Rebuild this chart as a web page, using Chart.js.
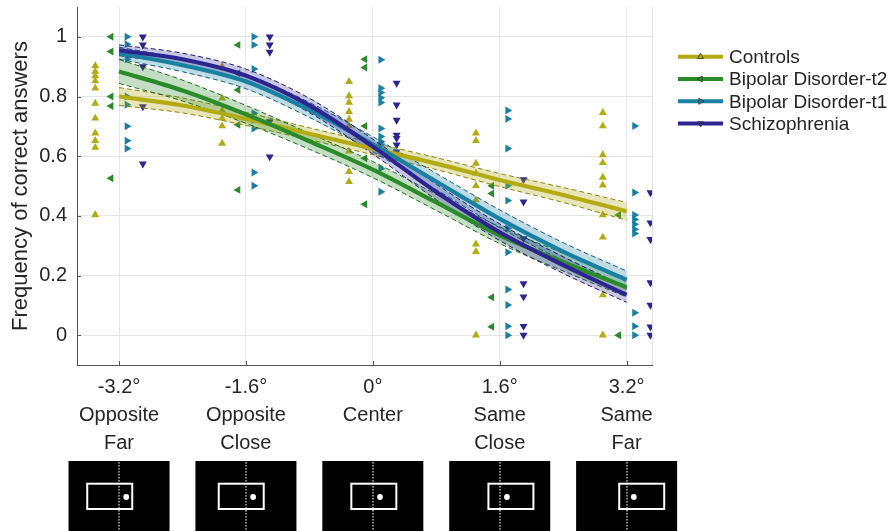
<!DOCTYPE html>
<html><head><meta charset="utf-8">
<script src="https://cdn.jsdelivr.net/npm/chart.js@4"></script>
<style>html,body{margin:0;padding:0;background:#fff;}canvas{display:block}</style>
</head><body>
<canvas id="c" width="892" height="531"></canvas>
<script>
// ---------- data ----------
const groupNames = ["Controls", "Bipolar Disorder-t2", "Bipolar Disorder-t1", "Schizophrenia"];
const conditions = [-3.2, -1.6, 0, 1.6, 3.2];
const tickLabels = [["-3.2°","Opposite","Far"],["-1.6°","Opposite","Close"],["0°","Center"],["1.6°","Same","Close"],["3.2°","Same","Far"]];
const yTicks = [0, 0.2, 0.4, 0.6, 0.8, 1];
const groupOffsets = [-0.3, -0.1, 0.1, 0.3];

// fitted curves, read at these eccentricities
const curveX = [-3.2, -2.4, -1.6, -0.8, 0, 0.8, 1.6, 2.4, 3.2];
const controlsFit  = [0.800, 0.770, 0.725, 0.675, 0.625, 0.575, 0.520, 0.470, 0.415];
const controlsUp   = [0.830, 0.795, 0.747, 0.695, 0.645, 0.595, 0.542, 0.495, 0.445];
const controlsLo   = [0.770, 0.745, 0.703, 0.655, 0.605, 0.555, 0.498, 0.445, 0.385];
const bdT2Fit      = [0.884, 0.820, 0.740, 0.650, 0.555, 0.445, 0.335, 0.245, 0.160];
const bdT2Up       = [0.924, 0.855, 0.770, 0.677, 0.582, 0.472, 0.363, 0.275, 0.192];
const bdT2Lo       = [0.844, 0.785, 0.710, 0.623, 0.528, 0.418, 0.307, 0.215, 0.128];
const bdT1Fit      = [0.945, 0.905, 0.850, 0.755, 0.640, 0.515, 0.390, 0.280, 0.185];
const bdT1Up       = [0.965, 0.927, 0.874, 0.780, 0.665, 0.542, 0.420, 0.310, 0.215];
const bdT1Lo       = [0.925, 0.883, 0.826, 0.730, 0.615, 0.488, 0.360, 0.250, 0.155];
const szFit        = [0.955, 0.925, 0.870, 0.770, 0.632, 0.480, 0.345, 0.235, 0.135];
const szUp         = [0.973, 0.945, 0.892, 0.794, 0.657, 0.506, 0.373, 0.263, 0.160];
const szLo         = [0.937, 0.905, 0.848, 0.746, 0.607, 0.454, 0.317, 0.207, 0.110];

// individual participants, one list per condition
const controlsPts = [
  [0.903,0.884,0.869,0.852,0.828,0.777,0.727,0.677,0.652,0.629,0.403],
  [0.900,0.794,0.753,0.727,0.701,0.643],
  [0.850,0.802,0.780,0.749,0.723,0.701,0.617,0.548,0.514],
  [0.677,0.652,0.576,0.543,0.501,0.453,0.305,0.280,0.000],
  [0.746,0.701,0.604,0.578,0.529,0.503,0.403,0.328,0.135,0.000]
];
const bdT2Pts = [
  [1.000,0.951,0.800,0.768,0.526],
  [0.973,0.878,0.822,0.705,0.487],
  [0.925,0.897,0.701,0.593,0.439],
  [0.501,0.475,0.127,0.028],
  [0.403,0.000]
];
const bdT1Pts = [
  [1.000,0.975,0.925,0.800,0.772,0.700,0.652,0.626],
  [1.000,0.973,0.892,0.744,0.721,0.693,0.545,0.501],
  [0.923,0.828,0.813,0.796,0.780,0.693,0.666,0.649,0.638,0.559,0.481],
  [0.753,0.725,0.626,0.501,0.451,0.358,0.278,0.153,0.101,0.030,0.000],
  [0.701,0.478,0.403,0.388,0.372,0.355,0.341,0.075,0.030,0.000]
];
const szPts = [
  [1.000,0.973,0.900,0.766,0.574],
  [1.000,0.973,0.949,0.716,0.598],
  [0.845,0.772,0.721,0.671,0.660,0.638,0.615,0.604],
  [0.522,0.447,0.324,0.173,0.129,0.030,0.000],
  [0.478,0.377,0.321,0.176,0.101,0.028,0.000]
];

// ---------- styles ----------
const colors   = ["#b3ab14", "#2b8a2a", "#1a80a2", "#2c2490"];
const bandFill = ["rgba(179,171,20,0.30)", "rgba(43,138,42,0.28)", "rgba(26,128,162,0.28)", "rgba(44,36,144,0.26)"];
const bandLine = ["#8c8510", "#1f6a1f", "#135f7a", "#201a6c"];
const rotations = [0, 270, 90, 180];
const FONT = "'Liberation Sans', Arial, Helvetica, sans-serif";

const fits = [controlsFit, bdT2Fit, bdT1Fit, szFit];
const ups = [controlsUp, bdT2Up, bdT1Up, szUp];
const los = [controlsLo, bdT2Lo, bdT1Lo, szLo];
const pts = [controlsPts, bdT2Pts, bdT1Pts, szPts];

const toXY = (arr) => curveX.map((x, i) => ({x: x, y: arr[i]}));

const datasets = [];
// scatter first (drawn at bottom)
for (let g = 0; g < 4; g++) {
  const d = [];
  pts[g].forEach((list, ci) => list.forEach(v => d.push({x: conditions[ci] + groupOffsets[g], y: v})));
  datasets.push({
    type: 'scatter', label: groupNames[g] + ' data', data: d,
    pointStyle: 'triangle', rotation: rotations[g], pointRadius: 4.6,
    backgroundColor: colors[g], borderColor: colors[g], borderWidth: 0,
    order: 30 - g
  });
}
// bands
for (let g = 0; g < 4; g++) {
  const idx = datasets.length;
  datasets.push({
    type: 'scatter', label: groupNames[g] + ' upper', data: toXY(ups[g]), showLine: true,
    cubicInterpolationMode: 'monotone', pointRadius: 0, borderWidth: 1, borderDash: [5, 3],
    borderColor: bandLine[g], backgroundColor: bandFill[g], fill: {target: idx + 1},
    order: 20 - 2 * g
  });
  datasets.push({
    type: 'scatter', label: groupNames[g] + ' lower', data: toXY(los[g]), showLine: true,
    cubicInterpolationMode: 'monotone', pointRadius: 0, borderWidth: 1, borderDash: [5, 3],
    borderColor: bandLine[g], fill: false, order: 19 - 2 * g
  });
}
// fitted lines
for (let g = 0; g < 4; g++) {
  datasets.push({
    type: 'scatter', label: groupNames[g], data: toXY(fits[g]), showLine: true,
    cubicInterpolationMode: 'monotone', pointRadius: 0, borderWidth: 4.2,
    borderColor: colors[g], fill: false, order: 4 - g
  });
}

function drawTri(ctx, x, y, r, rotDeg) {
  ctx.save(); ctx.translate(x, y); ctx.rotate(rotDeg * Math.PI / 180);
  ctx.beginPath();
  ctx.moveTo(0, -r); ctx.lineTo(r * 0.866, r * 0.5); ctx.lineTo(-r * 0.866, r * 0.5); ctx.closePath();
  ctx.restore();
}

const extras = {
  id: 'extras',
  afterDraw(chart) {
    const ctx = chart.ctx, xs = chart.scales.x, ys = chart.scales.y, a = chart.chartArea;
    ctx.save();
    // right border
    ctx.strokeStyle = '#e2e2e2'; ctx.lineWidth = 1;
    ctx.beginPath(); ctx.moveTo(Math.round(a.right) + 0.5, a.top); ctx.lineTo(Math.round(a.right) + 0.5, a.bottom); ctx.stroke();
    // inner tick marks
    ctx.strokeStyle = '#555'; ctx.lineWidth = 1;
    yTicks.forEach(v => { const py = Math.round(ys.getPixelForValue(v)) + 0.5; ctx.beginPath(); ctx.moveTo(a.left, py); ctx.lineTo(a.left + 4, py); ctx.stroke(); });
    conditions.forEach(v => { const px = Math.round(xs.getPixelForValue(v)) + 0.5; ctx.beginPath(); ctx.moveTo(px, a.bottom); ctx.lineTo(px, a.bottom - 4); ctx.stroke(); });

    // legend
    const rowsY = [56.7, 79, 101.3, 123.5];
    ctx.font = '19px ' + FONT; ctx.textBaseline = 'middle'; ctx.textAlign = 'left';
    for (let g = 0; g < 4; g++) {
      const y = rowsY[g];
      ctx.strokeStyle = colors[g]; ctx.lineWidth = 4; ctx.setLineDash([]);
      ctx.beginPath(); ctx.moveTo(678, y); ctx.lineTo(723, y); ctx.stroke();
      drawTri(ctx, 700.5, y, 3.5, rotations[g]);
      ctx.fillStyle = colors[g]; ctx.fill();
      ctx.strokeStyle = '#333'; ctx.lineWidth = 0.8; ctx.stroke();
      ctx.fillStyle = '#262626';
      ctx.fillText(groupNames[g], 729, y + 1);
    }

    // stimulus pictograms under each condition
    const rectLeft = [-32.8, -28.2, -22.5, -12.3, -8.4];
    conditions.forEach((v, i) => {
      const cx = xs.getPixelForValue(v);
      ctx.fillStyle = '#000';
      ctx.fillRect(cx - 50.5, 461, 101, 70);
      ctx.fillStyle = '#fff';
      for (let y = 462; y < 531; y += 3) ctx.fillRect(Math.round(cx) - 0.5, y, 1, 1.6);
      ctx.strokeStyle = '#fff'; ctx.lineWidth = 2;
      ctx.strokeRect(cx + rectLeft[i] + 1, 483.7, 45, 25.3);
      ctx.beginPath(); ctx.arc(cx + 7.2, 497, 2.9, 0, Math.PI * 2); ctx.fill();
    });
    ctx.restore();
  }
};

new Chart(document.getElementById('c'), {
  type: 'scatter',
  data: { datasets },
  options: {
    responsive: false, animation: false, devicePixelRatio: 1,
    layout: { padding: { left: 0, right: 240, top: 7, bottom: 0 } },
    plugins: { legend: { display: false }, tooltip: { enabled: false } },
    scales: {
      x: {
        type: 'linear', min: -3.73, max: 3.52,
        afterBuildTicks: s => { s.ticks = conditions.map(v => ({value: v})); },
        afterFit: s => { s.height = 166; s.paddingLeft = 0; s.paddingRight = 0; },
        ticks: { padding: 8, color: '#262626', font: { family: FONT, size: 20, lineHeight: 1.415 },
                 maxRotation: 0, autoSkip: false,
                 callback: (v, i) => tickLabels[i] },
        grid: { color: '#e6e6e6', drawTicks: false },
        border: { display: true, color: '#555', width: 1 }
      },
      y: {
        type: 'linear', min: -0.1, max: 1.1,
        afterBuildTicks: s => { s.ticks = yTicks.map(v => ({value: v})); },
        afterFit: s => { s.width = 77; s.paddingTop = 0; s.paddingBottom = 0; },
        ticks: { padding: 10, color: '#262626', font: { family: FONT, size: 20 },
                 callback: v => String(v) },
        grid: { color: '#e6e6e6', drawTicks: false },
        border: { display: true, color: '#555', width: 1 },
        title: { display: true, text: 'Frequency of correct answers', color: '#262626',
                 font: { family: FONT, size: 22 }, padding: { top: 8, bottom: 0 } }
      }
    }
  },
  plugins: [extras]
});
</script>
</body></html>
